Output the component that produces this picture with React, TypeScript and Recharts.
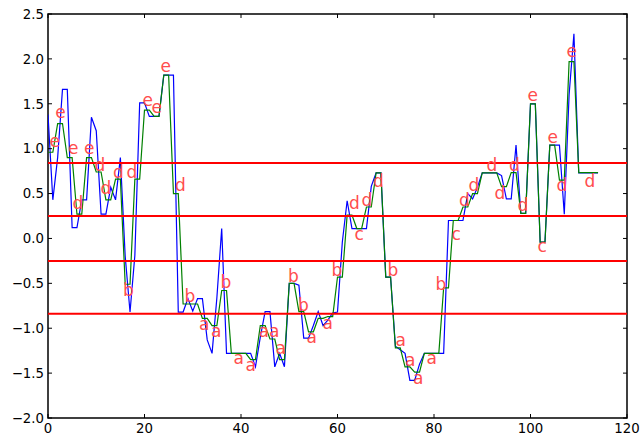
import React from "react";
import {
  ComposedChart,
  Line,
  Scatter,
  XAxis,
  YAxis,
  ReferenceLine,
  ReferenceArea,
} from "recharts";

// z-normalised series (blue)
const seriesValues = [
  1.38, 0.43, 0.9, 1.66, 1.66, 0.12, 0.12, 0.43, 0.43, 1.35,
  1.2, 0.27, 0.27, 0.57, 0.43, 0.9, -0.2, -0.82, -0.19, 1.51,
  1.51, 1.36, 1.36, 1.36, 1.82, 1.82, 1.82, -0.82, -0.82, -0.67,
  -0.81, -0.67, -0.67, -1.13, -1.28, -0.66, 0.11, -1.28, -1.28, -1.28,
  -1.28, -1.28, -1.28, -1.43, -1.1, -0.815, -0.815, -1.43, -1.28, -1.43,
  -0.5, -0.5, -0.52, -1.11, -1.11, -0.97, -0.815, -0.97, -0.91, -0.83,
  -0.82, -0.04, 0.42, 0.11, 0.11, 0.11, 0.11, 0.58, 0.73, 0.73,
  -0.43, -0.43, -1.2, -1.24, -1.28, -1.58, -1.58, -1.4, -1.28, -1.28,
  -1.28, -1.28, -1.28, 0.2, 0.2, 0.2, 0.2, 0.5, 0.44, 0.57,
  0.73, 0.73, 0.73, 0.73, 0.7, 0.44, 0.44, 1.04, 0.28, 0.28,
  1.5, 1.5, -0.04, -0.04, 1.04, 1.04, 1.04, 0.27, 1.6, 2.28,
  0.73, 0.73, 0.73, 0.73, 0.73,
];

// PAA segment means (green), one per 2 samples
const paaValues = [
  0.96, 1.28, 0.9, 0.27, 0.9, 0.74, 0.43, 0.66, -0.51, 0.66,
  1.43, 1.36, 1.82, 0.5, -0.73, -0.73, -0.89, -0.97, -0.58, -1.28,
  -1.28, -1.35, -0.97, -1.12, -1.35, -0.5, -0.815, -1.04, -0.89, -0.87,
  -0.43, 0.26, 0.11, 0.35, 0.73, -0.43, -1.22, -1.43, -1.49, -1.28,
  -1.28, -0.55, 0.2, 0.35, 0.5, 0.73, 0.73, 0.577, 0.733, 0.28,
  1.5, -0.04, 1.04, 0.65, 1.97, 0.733, 0.733, 0.733,
];
const segmentSize = 2;

// SAX breakpoints (red lines)
const breakpoints = [-0.84, -0.25, 0.25, 0.84];

// SAX symbol labels
const labelX = [
  0.31, 1.49, 4.15, 5.08, 7.46, 9.64, 10.88, 13.47, 16.27, 15.54,
  19.59, 21.45, 23.32, 26.32, 28.29, 31.3, 33.78, 35.75, 38.45, 40.93,
  43.63, 45.8, 47.15, 49.74, 51.81, 53.58, 56.89, 58.76, 62.38, 63.52,
  64.97, 67.36, 70.36, 72.02, 73.99, 75.65, 78.45, 80.31, 83.63, 85.18,
  87.15, 90.88, 92.54, 95.54, 97.31, 99.38, 101.45, 103.52, 105.39, 107.46,
  111.19,
];
const labelY = [
  1.019, 1.342, 0.941, 0.328, 0.941, 0.752, 0.496, 0.674, 0.674, -0.64,
  1.476, 1.398, 1.854, 0.529, -0.707, -1.019, -1.097, -0.551, -1.398, -1.476,
  -1.097, -1.097, -1.286, -0.484, -0.807, -1.164, -1.008, -0.418, 0.328, -0.017,
  0.362, 0.574, -0.418, -1.197, -1.42, -1.62, -1.398, -0.573, -0.017, 0.362,
  0.529, 0.752, 0.44, 0.752, 0.306, 1.531, -0.15, 1.063, 0.529, 2.021,
  0.574,
];
const labelText = [
  "e", "e", "e", "d", "e", "d", "d", "d", "d", "b",
  "e", "e", "e", "d", "b", "a", "a", "b", "a", "a",
  "a", "a", "a", "b", "b", "a", "a", "b", "d", "c",
  "d", "d", "b", "a", "a", "a", "a", "b", "c", "d",
  "d", "d", "d", "d", "d", "e", "c", "e", "d", "e",
  "d",
];

const xTicks = [0, 20, 40, 60, 80, 100, 120];
const yTicks = [-2, -1.5, -1, -0.5, 0, 0.5, 1, 1.5, 2, 2.5];
const yTickLabels = ["\u22122.0", "\u22121.5", "\u22121.0", "\u22120.5", "0.0", "0.5", "1.0", "1.5", "2.0", "2.5"];

const rows = seriesValues.map((v, i) => ({
  x: i,
  raw: v,
  paa: paaValues[Math.floor(i / segmentSize)],
}));
const labels = labelX.map((x, i) => ({ x, y: labelY[i], letter: labelText[i] }));

const W = 642;
const H = 437;
const PLOT_LEFT = 48;
const PLOT_RIGHT = 627;
const PLOT_TOP = 14;
const PLOT_BOTTOM = 418;
const FONT = "'DejaVu Sans', sans-serif";

const YTick = (props: any) => {
  const { x, y, payload } = props;
  const idx = yTicks.indexOf(payload.value);
  return (
    <g>
      <line x1={PLOT_LEFT} x2={PLOT_LEFT + 4} y1={y} y2={y} stroke="#000" strokeWidth={1} />
      <line x1={PLOT_RIGHT} x2={PLOT_RIGHT - 4} y1={y} y2={y} stroke="#000" strokeWidth={1} />
      <text x={x} y={y} dy="0.36em" textAnchor="end" fontFamily={FONT} fontSize={13.3} fill="#000">
        {idx >= 0 ? yTickLabels[idx] : String(payload.value)}
      </text>
    </g>
  );
};

const XTick = (props: any) => {
  const { x, y, payload } = props;
  return (
    <g>
      <line x1={x} x2={x} y1={PLOT_BOTTOM} y2={PLOT_BOTTOM - 4} stroke="#000" strokeWidth={1} />
      <line x1={x} x2={x} y1={PLOT_TOP} y2={PLOT_TOP + 4} stroke="#000" strokeWidth={1} />
      <text x={x} y={y} dy="0.72em" textAnchor="middle" fontFamily={FONT} fontSize={13.3} fill="#000">
        {payload.value}
      </text>
    </g>
  );
};

const LetterShape = (props: any) => {
  const { cx, cy, payload } = props;
  return (
    <text x={cx} y={cy} textAnchor="start" fontFamily={FONT} fontSize={17} fill="#ff4d4d">
      {payload.letter}
    </text>
  );
};

export default function App() {
  return (
    <div style={{ position: "absolute", left: 0, top: 0, width: W, height: H, background: "#fff" }}>
      <ComposedChart
        width={W}
        height={H}
        data={rows}
        margin={{ top: PLOT_TOP, right: W - PLOT_RIGHT, bottom: 0, left: 0 }}
      >
        <XAxis
          dataKey="x"
          type="number"
          domain={[0, 120]}
          ticks={xTicks}
          axisLine={false}
          tickLine={false}
          tickSize={0}
          tickMargin={5}
          height={H - PLOT_BOTTOM}
          tick={<XTick />}
          interval={0}
          allowDataOverflow
        />
        <YAxis
          type="number"
          domain={[-2, 2.5]}
          ticks={yTicks}
          axisLine={false}
          tickLine={false}
          tickSize={0}
          tickMargin={4}
          width={PLOT_LEFT}
          tick={<YTick />}
          interval={0}
          allowDataOverflow
        />
        <Line
          dataKey="raw"
          type="linear"
          stroke="#0000ff"
          strokeWidth={1.2}
          dot={false}
          activeDot={false}
          isAnimationActive={false}
        />
        <Line
          dataKey="paa"
          type="linear"
          stroke="#008000"
          strokeWidth={1.2}
          dot={false}
          activeDot={false}
          isAnimationActive={false}
        />
        {breakpoints.map((b) => (
          <ReferenceLine key={b} y={b} stroke="#ff0000" strokeWidth={2} />
        ))}
        <Scatter data={labels} dataKey="y" shape={<LetterShape />} isAnimationActive={false} />
        <ReferenceArea x1={0} x2={120} y1={-2} y2={2.5} fill="none" fillOpacity={0} stroke="#000" strokeWidth={1.5} />
      </ComposedChart>
    </div>
  );
}
